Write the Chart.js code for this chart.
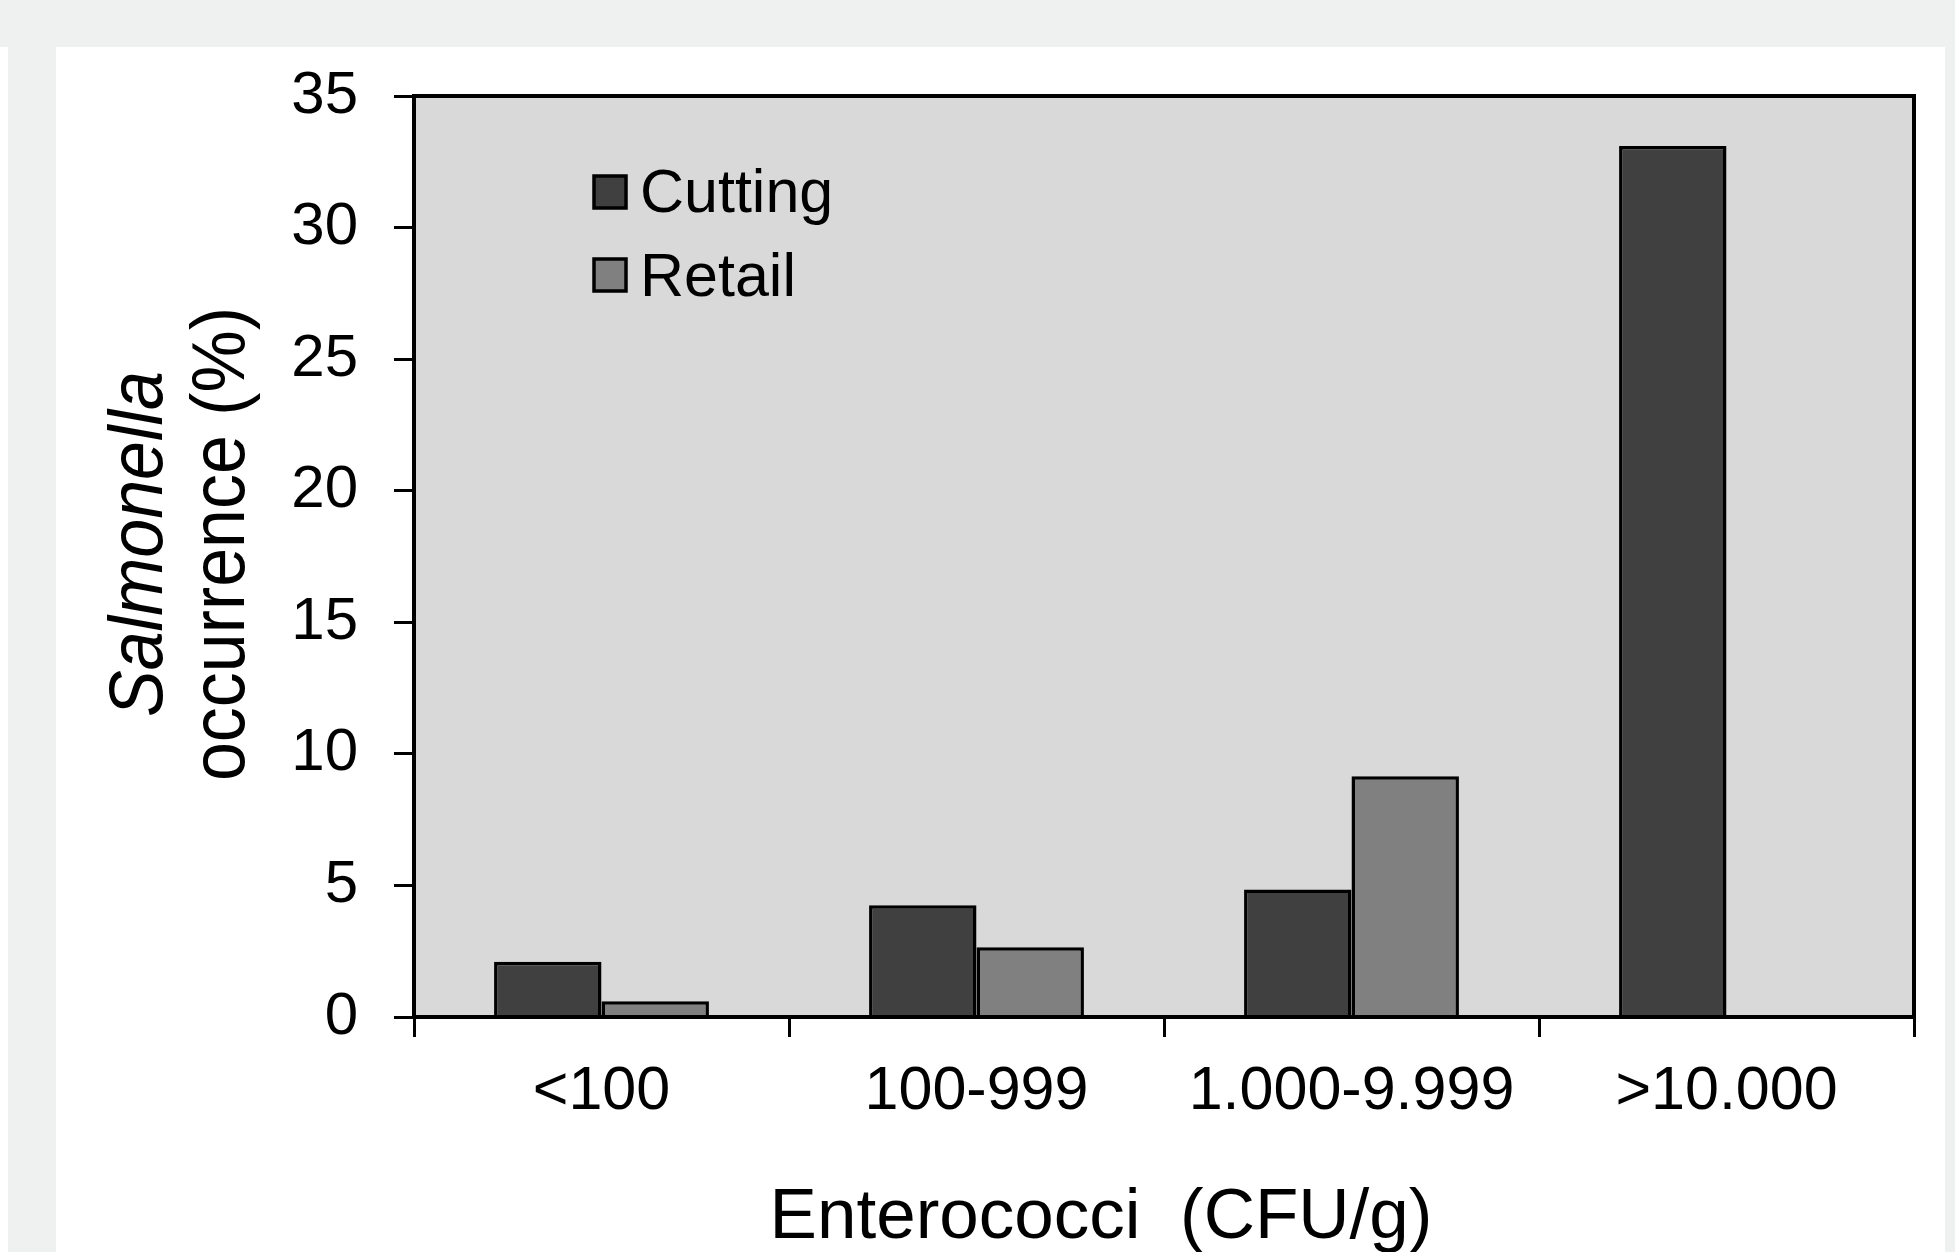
<!DOCTYPE html>
<html>
<head>
<meta charset="utf-8">
<script src="https://cdn.jsdelivr.net/npm/chart.js@4/dist/chart.umd.min.js"></script>
<style>
  html, body { margin: 0; padding: 0; }
  body { width: 1955px; height: 1252px; background: #eff1f0; position: relative; overflow: hidden; }
  #strip { position: absolute; left: 0; top: 47px; width: 8px; height: 1205px; background: #fff; }
  #panel { position: absolute; left: 56px; top: 47px; width: 1889px; height: 1205px; background: #fff; }
  #chart { position: absolute; left: 0; top: 0; }
</style>
</head>
<body>
<div id="strip"></div>
<div id="panel"></div>
<canvas id="chart" width="1955" height="1252"></canvas>
<script>
// data
var categories = ['<100', '100-999', '1.000-9.999', '>10.000'];
var cutting = [2.1, 4.25, 4.85, 33.1];
var retail = [0.6, 2.65, 9.15, 0];
var seriesNames = ['Cutting', 'Retail'];
var seriesColors = ['#404040', '#808080'];
var yTicks = [0, 5, 10, 15, 20, 25, 30, 35];

var FONT = "'Liberation Sans', Arial, sans-serif";

// grey plot area, frame, legend and axis titles
var decor = {
    id: 'decor',
    beforeDatasetsDraw: function(chart) {
        var ctx = chart.ctx, a = chart.chartArea;
        ctx.save();
        ctx.fillStyle = '#d9d9d9';
        ctx.fillRect(a.left, a.top, a.right - a.left, a.bottom - a.top);
        ctx.restore();
    },
    afterDatasetsDraw: function(chart) {
        var ctx = chart.ctx, a = chart.chartArea;
        ctx.save();
        ctx.strokeStyle = '#000';
        ctx.lineWidth = 4;
        ctx.strokeRect(a.left, a.top, a.right - a.left, a.bottom - a.top);

        // legend
        ctx.font = '61px ' + FONT;
        ctx.textBaseline = 'alphabetic';
        ctx.textAlign = 'left';
        chart.data.datasets.forEach(function(ds, i) {
            var by = 176 + i * 83;
            ctx.fillStyle = ds.backgroundColor;
            ctx.fillRect(594, by, 32, 32);
            ctx.lineWidth = 3.5;
            ctx.strokeStyle = '#000';
            ctx.strokeRect(594, by, 32, 32);
            ctx.fillStyle = '#000';
            ctx.fillText(ds.label, 640, 212 + i * 84);
        });

        // x title
        ctx.font = '71px ' + FONT;
        ctx.textAlign = 'center';
        ctx.fillText('Enterococci  (CFU/g)', 1101, 1238);

        // y title, two lines, rotated
        ctx.translate(0, 544);
        ctx.rotate(-Math.PI / 2);
        ctx.scale(0.92, 1);
        ctx.font = 'italic 76px ' + FONT;
        ctx.fillText('Salmonella', 0, 162);
        ctx.font = '76px ' + FONT;
        ctx.fillText('occurrence (%)', 0, 244);
        ctx.restore();
    }
};

var ctx = document.getElementById('chart');
var myChart = new Chart(ctx, {
    type: 'bar',
    data: {
        labels: categories,
        datasets: [
            { label: seriesNames[0], data: cutting, backgroundColor: seriesColors[0],
              borderColor: '#000', borderWidth: 3.5 },
            { label: seriesNames[1], data: retail, backgroundColor: seriesColors[1],
              borderColor: '#000', borderWidth: 3.5 }
        ]
    },
    options: {
        responsive: false,
        animation: false,
        events: [],
        categoryPercentage: 0.573,
        barPercentage: 1.0,
        layout: { padding: { top: 96, right: 41, left: 0, bottom: 0 } },
        plugins: { legend: { display: false }, tooltip: { enabled: false } },
        scales: {
            x: {
                grid: { offset: true, drawOnChartArea: false, drawTicks: true, tickLength: 20,
                        color: '#000', lineWidth: 3 },
                border: { display: true, color: '#000', width: 3 },
                ticks: { color: '#000', font: { family: FONT, size: 61 }, padding: 19, maxRotation: 0 },
                afterFit: function(scale) { scale.height = 235; }
            },
            y: {
                min: 0,
                max: 35,
                afterBuildTicks: function(scale) {
                    scale.ticks = yTicks.map(function(v) { return { value: v }; });
                },
                grid: { drawOnChartArea: false, drawTicks: true, tickLength: 20,
                        color: '#000', lineWidth: 3 },
                border: { display: true, color: '#000', width: 3 },
                ticks: { color: '#000', font: { family: FONT, size: 60 }, padding: 36 },
                afterFit: function(scale) { scale.width = 414; }
            }
        }
    },
    plugins: [decor]
});
</script>
</body>
</html>
